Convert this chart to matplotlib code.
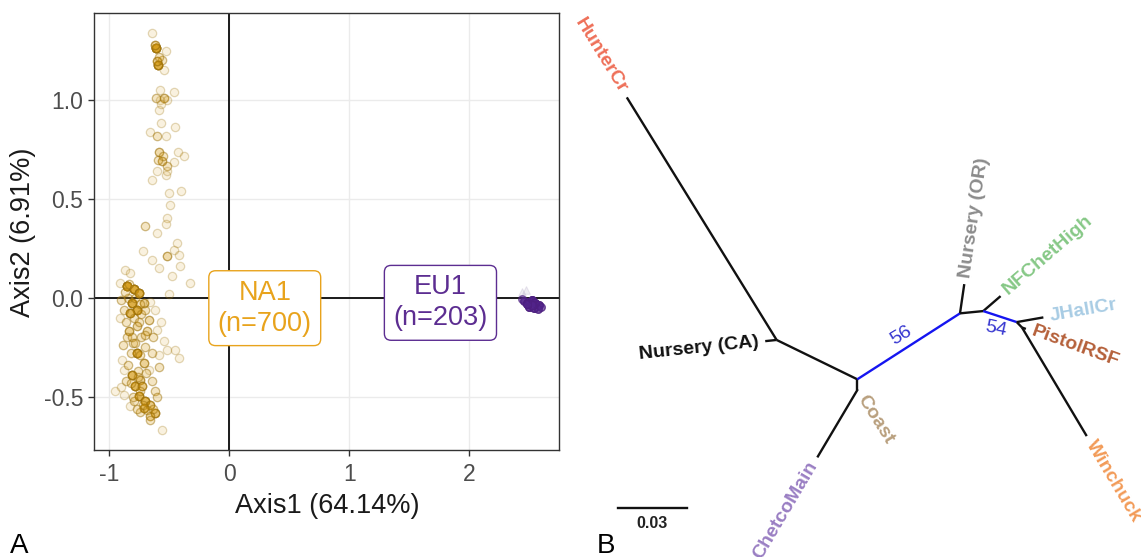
import numpy as np
import matplotlib.pyplot as plt

plt.rcParams["font.family"] = ["Liberation Sans", "DejaVu Sans"]
plt.rcParams["axes.unicode_minus"] = False

# ---- Panel A: PCoA points (x, y, how many stacked at that spot) ----
na1_x = [-0.642, -0.606, -0.592, -0.559, -0.522, -0.545, -0.573, -0.545, -0.573, -0.517,
         -0.461, -0.581, -0.567, -0.453, -0.656, -0.600, -0.522, -0.586, -0.559, -0.517,
         -0.456, -0.425, -0.378, -0.522, -0.642, -0.503, -0.400, -0.489, -0.517, -0.522,
         -0.698, -0.600, -0.434, -0.461, -0.717, -0.517, -0.420, -0.406, -0.642, -0.586,
         -0.475, -0.328, -0.503, -0.864, -0.823, -0.906,
         -0.850, -0.795, -0.753, -0.809, -0.767, -0.823, -0.711, -0.670, -0.878, -0.836,
         -0.767, -0.684, -0.600, -0.545, -0.517, -0.448, -0.420, -0.767, -0.711, -0.642,
         -0.586, -0.878, -0.892, -0.809, -0.739, -0.670, -0.781, -0.725, -0.948, -0.878,
         -0.753, -0.698, -0.656, -0.711, -0.614, -0.656, -0.823, -0.559,
         -0.850, -0.730, -0.800, -0.700, -0.860, -0.760, -0.790, -0.740, -0.840, -0.730,
         -0.640, -0.620, -0.900, -0.700, -0.630, -0.580, -0.600, -0.880,
         -0.870, -0.830, -0.780, -0.740, -0.790, -0.860, -0.750, -0.810, -0.700, -0.780,
         -0.820, -0.740, -0.690, -0.840, -0.760, -0.820, -0.740, -0.800, -0.720, -0.680,
         -0.630, -0.660, -0.770, -0.900, -0.620, -0.660, -0.570, -0.910,
         -0.620, -0.600, -0.580, -0.610, -0.550, -0.590, -0.600, -0.520, -0.570]
na1_y = [1.342, 1.266, 1.181, 1.207, 1.249, 1.156, 1.055, 1.013, 1.004, 1.004,
         1.041, 0.953, 0.886, 0.864, 0.839, 0.822, 0.818, 0.741, 0.692, 0.667,
         0.687, 0.737, 0.717, 0.624, 0.599, 0.532, 0.540, 0.472, 0.405, 0.376,
         0.366, 0.329, 0.278, 0.245, 0.239, 0.211, 0.219, 0.164, 0.191, 0.152,
         0.110, 0.076, 0.022, 0.140, 0.127, 0.076,
         0.059, 0.045, 0.025, -0.025, -0.059, -0.076, -0.025, -0.110, -0.059, -0.169,
         -0.144, -0.169, -0.160, -0.220, -0.262, -0.262, -0.304, -0.279, -0.329, -0.279,
         -0.287, -0.363, -0.312, -0.388, -0.414, -0.363, -0.447, -0.447, -0.473, -0.490,
         -0.498, -0.523, -0.540, -0.557, -0.582, -0.599, -0.549, -0.667,
         -0.200, -0.200, -0.230, -0.250, -0.420, -0.370, -0.520, -0.580, 0.000, -0.080,
         -0.420, -0.470, -0.010, -0.060, -0.200, -0.350, -0.500, -0.240,
         0.030, 0.070, 0.000, -0.030, -0.100, -0.120, -0.120, -0.200, -0.190, -0.230,
         -0.280, -0.290, -0.380, -0.340, -0.400, -0.430, -0.470, -0.500, -0.540, -0.570,
         -0.560, -0.620, -0.560, -0.450, -0.060, -0.020, -0.120, -0.100,
         1.280, 1.200, 1.220, 1.010, 0.720, 0.700, 0.640, 0.640, 0.980]
na1_n = [1, 14, 10, 2, 1, 1, 1, 3, 1, 1,
         1, 1, 1, 1, 1, 2, 1, 3, 3, 2,
         1, 1, 1, 1, 1, 1, 1, 1, 1, 1,
         2, 1, 1, 1, 1, 3, 1, 1, 1, 1,
         1, 1, 1, 1, 1, 1,
         14, 12, 10, 10, 10, 8, 4, 3, 2, 4,
         3, 3, 1, 1, 1, 1, 1, 10, 4, 2,
         1, 1, 1, 8, 4, 1, 8, 5, 1, 1,
         8, 8, 5, 6, 6, 3, 1, 1,
         2, 2, 2, 2, 2, 2, 2, 2, 2, 2,
         2, 2, 2, 2, 2, 2, 2, 2,
         2, 2, 2, 2, 2, 2, 2, 2, 2, 2,
         2, 2, 2, 2, 2, 2, 2, 2, 2, 2,
         2, 2, 2, 1, 1, 1, 1, 1,
         4, 4, 2, 2, 2, 2, 1, 1, 1]

eu1_x = [2.46, 2.49, 2.52, 2.55, 2.58, 2.50, 2.54, 2.57, 2.44, 2.60, 2.52, 2.48]
eu1_y = [-0.015, -0.020, -0.010, -0.025, -0.035, -0.045, -0.050, -0.055, -0.005, -0.045, -0.035, -0.030]
eu1_n = [6, 10, 12, 12, 8, 8, 8, 5, 3, 4, 15, 10]
eu1_faint_x = [2.44, 2.47]
eu1_faint_y = [0.030, 0.040]

groups = ["NA1\n(n=700)", "EU1\n(n=203)"]
group_pos_x = [0.297, 1.76]
group_pos_y = [-0.052, -0.025]
group_cols = ["#E8A31C", "#5C2D91"]

# ---- Panel B: unrooted tree as edges (parent, child, branch length, angle in degrees) ----
parents = ["C", "CA", "CA", "C", "D", "D", "C", "OR", "OR", "N2", "N2", "N3", "N3", "N4", "N4"]
children = ["CA", "HunterCr", "Nursery (CA)", "D", "Coast", "ChetcoMain", "OR", "Nursery (OR)",
            "N2", "NFChetHigh", "N3", "JHallCr", "N4", "PistolRSF", "Winchuck"]
lengths = [0.0392, 0.1245, 0.0050, 0.0047, 0.0004, 0.0342, 0.0533, 0.0129,
           0.0102, 0.0100, 0.0154, 0.0118, 0.0033, 0.0018, 0.0552]
angles = [154.0, 121.7, -174.0, -90.0, -58.0, -120.7, 32.7, 81.7,
          5.6, 40.8, -18.2, 10.0, -46.0, -20.0, -59.2]
blue_edges = ["OR", "N3"]

tip_names = ["HunterCr", "Nursery (CA)", "Coast", "ChetcoMain", "Nursery (OR)",
             "NFChetHigh", "JHallCr", "PistolRSF", "Winchuck"]
tip_cols = ["#EE6F58", "#111111", "#B9A07E", "#9A7EC3", "#8C8C8C",
            "#86C886", "#A8CCE4", "#B5603A", "#F29B58"]

boot_edges = ["OR", "N3"]
boot_vals = ["56", "54"]
boot_side = [1, -1]
boot_rot = [31, -12]

scale_len = 0.03

fig = plt.figure(figsize=(11.41, 5.57), dpi=100)

# ---------------- Panel A ----------------
ax1 = fig.add_axes([0.0828, 0.1914, 0.4074, 0.7844])
ax1.set_xlim(-1.121, 2.75)
ax1.set_ylim(-0.772, 1.44)
ax1.set_xticks([-1, 0, 1, 2])
ax1.set_yticks([-0.5, 0.0, 0.5, 1.0])
ax1.set_yticklabels(["-0.5", "0.0", "0.5", "1.0"])
ax1.grid(True, color="#ebebeb", lw=1)
ax1.set_axisbelow(True)
ax1.axvline(0, color="#1a1a1a", lw=1.4, zorder=1)
ax1.axhline(0, color="#1a1a1a", lw=1.4, zorder=1)
for s in ax1.spines.values():
    s.set_color("#333333")
    s.set_linewidth(1)
ax1.tick_params(axis="both", colors="#333333", labelcolor="#4d4d4d", labelsize=16.5,
                length=4, width=1)
ax1.tick_params(axis="x", pad=5)
ax1.tick_params(axis="y", pad=4)

px = np.repeat(na1_x, na1_n)
py = np.repeat(na1_y, na1_n)
ax1.scatter(px, py, s=36, facecolor=(0.84, 0.60, 0.05, 0.13),
            edgecolor=(0.62, 0.45, 0.05, 0.28), lw=0.9, zorder=2)

ex = np.repeat(eu1_x, eu1_n)
ey = np.repeat(eu1_y, eu1_n)
ax1.scatter(eu1_faint_x, eu1_faint_y, s=30, marker="^", facecolor=(0.6, 0.55, 0.7, 0.15),
            edgecolor=(0.6, 0.55, 0.7, 0.2), lw=0.8, zorder=2)
ax1.scatter(ex, ey, s=30, facecolor=(0.33, 0.15, 0.55, 0.25),
            edgecolor=(0.30, 0.12, 0.50, 0.3), lw=0.8, zorder=2)

for lab, gx, gy, col in zip(groups, group_pos_x, group_pos_y, group_cols):
    ax1.text(gx, gy, lab, ha="center", va="center", color=col, fontsize=19.5,
             linespacing=1.25, zorder=5,
             bbox=dict(boxstyle="round,pad=0.33,rounding_size=0.25", fc="white", ec=col, lw=1))

ax1.set_xlabel("Axis1 (64.14%)", fontsize=19.5, color="#1a1a1a")
ax1.set_ylabel("Axis2 (6.91%)", fontsize=19.5, color="#1a1a1a")
ax1.xaxis.set_label_coords(0.5, -0.097)
ax1.yaxis.set_label_coords(-0.125, 0.5)

fig.text(0.009, 0.008, "A", fontsize=20, va="baseline")
fig.text(0.523, 0.008, "B", fontsize=20, va="baseline")

# ---------------- Panel B ----------------
ax2 = fig.add_axes([570 / 1141, 0, 571 / 1141, 1])
ax2.set_xlim(-0.12546, 0.12389)
ax2.set_ylim(-0.0776, 0.16563)
ax2.axis("off")

pos = {"C": (0.0, 0.0)}
for p, c, L, a in zip(parents, children, lengths, angles):
    x0, y0 = pos[p]
    r = np.radians(a)
    x1, y1 = x0 + L * np.cos(r), y0 + L * np.sin(r)
    pos[c] = (x1, y1)
    col = "#1515f0" if c in blue_edges else "#111111"
    ax2.plot([x0, x1], [y0, y1], color=col, lw=1.7, solid_capstyle="butt")

edge_angle = dict(zip(children, angles))
edge_parent = dict(zip(children, parents))

for name, col in zip(tip_names, tip_cols):
    a = edge_angle[name]
    r = np.radians(a)
    gap = 0.0028
    tx = pos[name][0] + gap * np.cos(r)
    ty = pos[name][1] + gap * np.sin(r)
    if -90 <= a <= 90:
        rot, ha = a, "left"
    else:
        rot, ha = a - 180 if a > 0 else a + 180, "right"
    ax2.text(tx, ty, name, rotation=rot, rotation_mode="anchor", ha=ha, va="center",
             color=col, fontsize=14, fontweight="bold")

for e, v, side, rot in zip(boot_edges, boot_vals, boot_side, boot_rot):
    (x0, y0), (x1, y1) = pos[edge_parent[e]], pos[e]
    r = np.radians(edge_angle[e])
    off = 0.0058 * side
    mx = (x0 + x1) / 2 - off * np.sin(r)
    my = (y0 + y1) / 2 + off * np.cos(r)
    ax2.text(mx, my, v, rotation=rot, rotation_mode="anchor", ha="center", va="center",
             color="#3535d0", fontsize=14)

sx, sy = -0.1045, -0.0562
ax2.plot([sx, sx + scale_len], [sy, sy], color="#111111", lw=1.7)
ax2.text(sx + scale_len / 2, sy - 0.0035, f"{scale_len:.2f}", ha="center", va="top",
         fontsize=11.5, fontweight="bold", color="#222222")

fig.savefig("out.png", dpi=100)
